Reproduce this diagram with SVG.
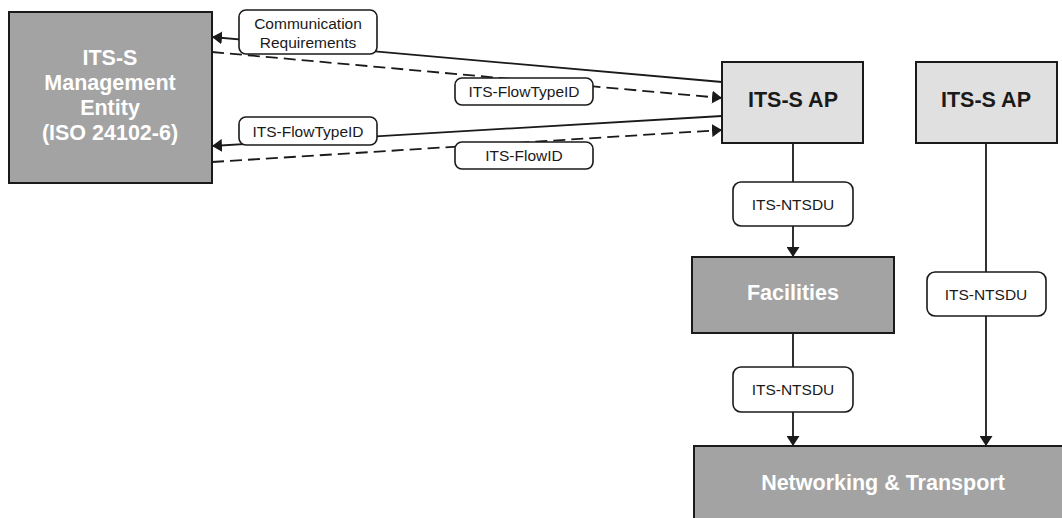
<svg xmlns="http://www.w3.org/2000/svg" width="1062" height="518" viewBox="0 0 1062 518">
  <style>
    .box { stroke: #1a1a1a; stroke-width: 2; }
    .dark { fill: #a3a3a3; }
    .light { fill: #e0e0e0; }
    .title { font-family: "Liberation Sans", Arial, sans-serif; font-weight: bold; font-size: 21.5px; text-anchor: middle; dominant-baseline: central; }
    .white { fill: #ffffff; }
    .black { fill: #1a1a1a; }
    .tag rect { fill: #ffffff; stroke: #1a1a1a; stroke-width: 1.6; }
    .tag text { font-family: "Liberation Sans", Arial, sans-serif; font-size: 15.5px; fill: #1a1a1a; text-anchor: middle; dominant-baseline: central; }
    .line { stroke: #1a1a1a; stroke-width: 1.8; fill: none; }
    .dash { stroke-dasharray: 12 6; }
  </style>
  <defs>
    <marker id="arrow" viewBox="0 0 10 13" refX="10" refY="6.5" markerWidth="10" markerHeight="13" markerUnits="userSpaceOnUse" orient="auto">
      <path d="M0,0 L10,6.5 L0,13 Z" fill="#1a1a1a"/>
    </marker>
  </defs>

  <rect width="1062" height="518" fill="#ffffff"/>

  <!-- connectors -->
  <g id="connectors">
    <line class="line" x1="722" y1="82" x2="212" y2="37" marker-end="url(#arrow)"/>
    <line class="line dash" x1="212" y1="52" x2="722" y2="98" marker-end="url(#arrow)"/>
    <line class="line" x1="722" y1="116" x2="212" y2="146" marker-end="url(#arrow)"/>
    <line class="line dash" x1="212" y1="162" x2="722" y2="130" marker-end="url(#arrow)"/>
    <line class="line" x1="793" y1="143" x2="793" y2="257" marker-end="url(#arrow)"/>
    <line class="line" x1="793" y1="333" x2="793" y2="446" marker-end="url(#arrow)"/>
    <line class="line" x1="986" y1="143" x2="986" y2="446" marker-end="url(#arrow)"/>
  </g>

  <!-- nodes -->
  <g id="management-entity">
    <rect class="box dark" x="9" y="12" width="203" height="171"/>
    <text class="title white" x="110" y="58">ITS-S</text>
    <text class="title white" x="110" y="83">Management</text>
    <text class="title white" x="110" y="108">Entity</text>
    <text class="title white" x="110" y="133">(ISO 24102-6)</text>
  </g>

  <g id="its-s-ap-1">
    <rect class="box light" x="722" y="62" width="141" height="81"/>
    <text class="title black" x="793" y="100">ITS-S AP</text>
  </g>

  <g id="its-s-ap-2">
    <rect class="box light" x="916" y="62" width="141" height="81"/>
    <text class="title black" x="986" y="100">ITS-S AP</text>
  </g>

  <g id="facilities">
    <rect class="box dark" x="692" y="257" width="202" height="76"/>
    <text class="title white" x="793" y="293">Facilities</text>
  </g>

  <g id="networking-transport">
    <rect class="box dark" x="694" y="446" width="380" height="80"/>
    <text class="title white" x="883" y="483">Networking &amp; Transport</text>
  </g>

  <!-- connector labels -->
  <g id="label-comm-req" class="tag">
    <rect x="239" y="10" width="138" height="44" rx="7"/>
    <text x="308" y="23">Communication</text>
    <text x="308" y="42">Requirements</text>
  </g>
  <g id="label-flowtypeid-upper" class="tag">
    <rect x="455" y="78" width="138" height="27" rx="7"/>
    <text x="524" y="91">ITS-FlowTypeID</text>
  </g>
  <g id="label-flowtypeid-lower" class="tag">
    <rect x="239" y="117" width="138" height="28" rx="7"/>
    <text x="308" y="131">ITS-FlowTypeID</text>
  </g>
  <g id="label-flowid" class="tag">
    <rect x="455" y="142" width="138" height="27" rx="7"/>
    <text x="524" y="155">ITS-FlowID</text>
  </g>
  <g id="label-ntsdu-1" class="tag">
    <rect x="733" y="182" width="120" height="44" rx="8"/>
    <text x="793" y="204">ITS-NTSDU</text>
  </g>
  <g id="label-ntsdu-2" class="tag">
    <rect x="927" y="272" width="119" height="44" rx="8"/>
    <text x="986" y="294">ITS-NTSDU</text>
  </g>
  <g id="label-ntsdu-3" class="tag">
    <rect x="733" y="367" width="120" height="45" rx="8"/>
    <text x="793" y="389">ITS-NTSDU</text>
  </g>
</svg>
